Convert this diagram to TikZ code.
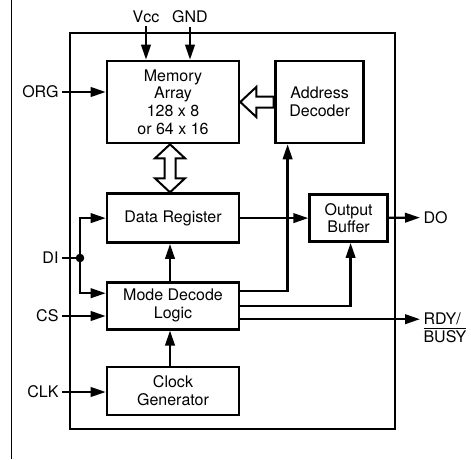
\documentclass[tikz,border=0pt]{standalone}
\usepackage{fontspec}
\setmainfont{TeX Gyre Heros}
\usetikzlibrary{arrows.meta,positioning}
\newcommand{\negsig}[1]{\leavevmode\vbox{\hrule height 1.4pt\kern1.6pt\hbox{#1}}}

\begin{document}
\begin{tikzpicture}[x=1pt,y=1pt,font=\fontsize{16}{17.6}\selectfont,
  >={Triangle[length=15pt,width=9.5pt]},
  box/.style={draw,line width=2.6pt,align=center,inner sep=0pt},
  sig/.style={line width=2.3pt,line join=miter},
  hollow/.style={draw,line width=2pt,fill=white,line join=miter}]
\useasboundingbox (0,0) rectangle (471,459);
% page rule and chip outline
\draw[line width=1.2pt] (11.5,459) -- (11.5,0);
\draw[line width=1.6pt] (70,30) rectangle (395,426);
% blocks
\node[box,minimum width=132,minimum height=82] (mem) at (173,357)
  {Memory\\Array\\128 x 8\\or 64 x 16};
\node[box,minimum width=88,minimum height=82,right=34pt of mem] (addr)
  {Address\\Decoder};
\node[box,minimum width=132,minimum height=49,below=48pt of mem] (dreg)
  {Data Register};
\node[box,minimum width=78,minimum height=47,right=68pt of dreg] (obuf)
  {Output\\Buffer};
\node[box,minimum width=132,minimum height=47,below=37pt of dreg] (mode)
  {Mode Decode\\Logic};
\node[box,minimum width=132,minimum height=48,below=35pt of mode] (clkg)
  {Clock\\Generator};
% pins
\node (vcc) at (146,442) {Vcc};
\node (gnd) at (190,442) {GND};
\node[anchor=east] (org) at (62,367) {ORG};
\node[anchor=east] (di) at (62,201) {DI};
\node[anchor=east] (cs) at (62,143) {CS};
\node[anchor=east] (clk) at (62,67) {CLK};
\node[anchor=west] (do) at (420,241.5) {DO};
\node[anchor=west,align=left] (rdy) at (420,131) {RDY/\\\negsig{BUSY}};
\coordinate (dij) at (80,201);
% hollow buses
\draw[hollow] ([xshift=-3pt]mem.south) -- ++(15,-14) -- ++(-9.5,0)
  -- ++(0,-20) -- ++(9.5,0) -- ++(-15,-14) -- ++(-15,14) -- ++(9.5,0)
  -- ++(0,20) -- ++(-9.5,0) -- cycle;
\draw[hollow] (mem.east) -- ++(16,15) -- ++(0,-9.5) -- ++(17.4,0)
  -- ++(0,-11) -- ++(-17.4,0) -- ++(0,-9.5) -- cycle;
% signals
\draw[sig,->] (vcc.south) -- (vcc.south |- mem.north);
\draw[sig,->] (gnd.south) -- (gnd.south |- mem.north);
\draw[sig,->] (org.east) -- (org.east -| mem.west);
\draw[sig] (di.east) -- (dij);
\fill (dij) circle (4.3);
\draw[sig,->] (dij) |- (dreg.west);
\draw[sig,->] (dij) |- ([yshift=12.5pt]mode.west);
\draw[sig,->] (cs.east) -- (cs.east -| mode.west);
\draw[sig,->] (clk.east) -- (clk.east -| clkg.west);
\draw[sig,->] ([xshift=-3pt]clkg.north) -- ([xshift=-3pt]mode.south);
\draw[sig,->] ([xshift=-3pt]mode.north) -- ([xshift=-3pt]dreg.south);
\draw[sig,->] (dreg) -- (obuf);
\draw[sig,->] (obuf) -- (do);
\draw[sig,->] ([yshift=14.5pt]mode.east) -| ([xshift=-32pt]addr.south);
\draw[sig,->] (mode.east) -| ([xshift=2pt]obuf.south);
\draw[sig,->] ([yshift=-13.5pt]mode.east) -- ([yshift=-13.5pt]mode.east -| rdy.west);
\end{tikzpicture}
\end{document}
